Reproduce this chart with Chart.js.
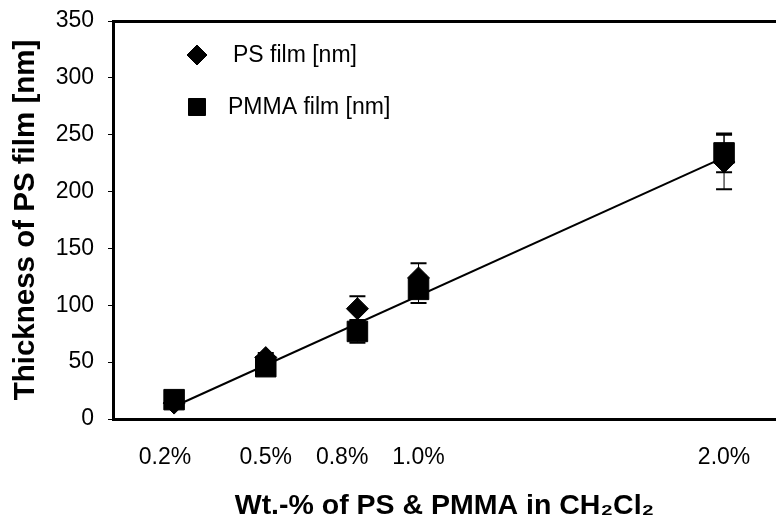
<!DOCTYPE html>
<html>
<head>
<meta charset="utf-8">
<script src="https://cdn.jsdelivr.net/npm/chart.js@4"></script>
<style>
  html, body { margin: 0; padding: 0; background: #fff; }
  #wrap { width: 776px; height: 520px; }
</style>
</head>
<body>
<div id="wrap"><canvas id="filmChart"></canvas></div>
<script>
// values
const concentrations = [0.2, 0.5, 0.8, 1.0, 2.0]; // wt.-%
const psThickness = [14, 54, 97, 124, 226];
const psError = [3, 4, 11, 13, 24];
const pmmaThickness = [17, 46, 77, 114, 234];
const pmmaError = [3, 4, 10, 12, 17];
const fitX = [0.2, 2.0];
const fitY = [11, 230];

const tickLabels = ["0.2%", "0.5%", "0.8%", "1.0%", "2.0%"];
const tickAt = [0.17, 0.5, 0.75, 1.0, 2.0]; // where the labels sit on the axis
const yTicks = [0, 50, 100, 150, 200, 250, 300, 350];

Chart.defaults.font.family = "'Liberation Sans', Arial, sans-serif";
Chart.defaults.color = "#000";

const toPoints = (xs, ys) => xs.map((x, i) => ({ x: x, y: ys[i] }));

// error bars, drawn under the markers
const errorBars = {
  id: "errorBars",
  beforeDatasetsDraw(chart) {
    const ctx = chart.ctx;
    const yScale = chart.scales.y;
    ctx.save();
    ctx.strokeStyle = "#000";
    chart.data.datasets.forEach((ds, i) => {
      if (!ds.errors) return;
      const meta = chart.getDatasetMeta(i);
      meta.data.forEach((pt, j) => {
        const top = yScale.getPixelForValue(ds.data[j].y + ds.errors[j]);
        const bot = yScale.getPixelForValue(ds.data[j].y - ds.errors[j]);
        ctx.lineWidth = 1;
        ctx.beginPath();
        ctx.moveTo(pt.x, top);
        ctx.lineTo(pt.x, bot);
        ctx.stroke();
        ctx.lineWidth = 2;
        ctx.beginPath();
        ctx.moveTo(pt.x - 8, top);
        ctx.lineTo(pt.x + 8, top);
        ctx.moveTo(pt.x - 8, bot);
        ctx.lineTo(pt.x + 8, bot);
        ctx.stroke();
      });
    });
    ctx.restore();
  },
};

// legend sits inside the plot, top left
const insideLegend = {
  id: "insideLegend",
  afterDraw(chart) {
    const ctx = chart.ctx;
    const area = chart.chartArea;
    const items = [
      { ds: 0, style: "rectRot", radius: 10, dy: 34, tx: 120 },
      { ds: 1, style: "rect", radius: 12, dy: 86, tx: 115 },
    ];
    ctx.save();
    ctx.fillStyle = "#000";
    ctx.strokeStyle = "#000";
    ctx.font = "23px 'Liberation Sans', Arial, sans-serif";
    ctx.textBaseline = "middle";
    items.forEach((it) => {
      const y = area.top + it.dy;
      Chart.helpers.drawPoint(ctx, { pointStyle: it.style, radius: it.radius, rotation: 0, borderWidth: 1 }, area.left + 84, y);
      ctx.fillText(chart.data.datasets[it.ds].label, area.left + it.tx, y + 1);
    });
    ctx.restore();
  },
};

const noPad = (scale) => {
  scale.paddingLeft = 0;
  scale.paddingRight = 0;
  scale.paddingTop = 0;
  scale.paddingBottom = 0;
};

const ctx1 = document.getElementById("filmChart");
new Chart(ctx1, {
  type: "scatter",
  data: {
    datasets: [
      {
        label: "PS film [nm]",
        data: toPoints(concentrations, psThickness),
        errors: psError,
        pointStyle: "rectRot",
        pointRadius: 11,
        backgroundColor: "#000",
        borderColor: "#000",
        borderWidth: 1,
      },
      {
        label: "PMMA film [nm]",
        data: toPoints(concentrations, pmmaThickness),
        errors: pmmaError,
        pointStyle: "rect",
        pointRadius: 14.5,
        backgroundColor: "#000",
        borderColor: "#000",
        borderWidth: 1,
      },
      {
        label: "fit",
        data: toPoints(fitX, fitY),
        showLine: true,
        pointRadius: 0,
        borderColor: "#000",
        borderWidth: 2,
      },
    ],
  },
  options: {
    responsive: true,
    maintainAspectRatio: false,
    animation: false,
    layout: { padding: 0, autoPadding: false },
    plugins: {
      legend: { display: false },
      tooltip: { enabled: false },
    },
    scales: {
      x: {
        type: "linear",
        position: "bottom",
        min: 0,
        max: 2.17,
        afterFit: (scale) => { scale.height = 101; noPad(scale); },
        afterBuildTicks: (scale) => { scale.ticks = tickAt.map((v) => ({ value: v })); },
        ticks: {
          autoSkip: false,
          maxRotation: 0,
          padding: 25,
          font: { size: 23 },
          callback: (value, index) => tickLabels[index],
        },
        grid: { display: false, drawTicks: false },
        border: { display: true, color: "#000", width: 3 },
        title: {
          display: true,
          text: "Wt.-% of PS & PMMA in CH₂Cl₂",
          font: { size: 28.5, weight: "bold" },
          padding: { top: 0, bottom: -3 },
        },
      },
      xTop: {
        type: "linear",
        position: "top",
        min: 0,
        max: 2.17,
        afterFit: (scale) => { scale.height = 21; noPad(scale); },
        ticks: { display: false },
        grid: { display: false, drawTicks: false },
        border: { display: true, color: "#000", width: 3 },
      },
      y: {
        min: 0,
        max: 350,
        afterFit: (scale) => { scale.width = 113; noPad(scale); },
        afterBuildTicks: (scale) => { scale.ticks = yTicks.map((v) => ({ value: v })); },
        ticks: {
          padding: 14,
          font: { size: 23 },
        },
        grid: { drawOnChartArea: false, tickLength: 5, color: "#000", lineWidth: 1 },
        border: { display: true, color: "#000", width: 3 },
        title: {
          display: true,
          text: "Thickness of PS film [nm]",
          font: { size: 29.5, weight: "bold" },
          padding: { top: 8, bottom: 0 },
        },
      },
    },
  },
  plugins: [errorBars, insideLegend],
});
</script>
</body>
</html>
